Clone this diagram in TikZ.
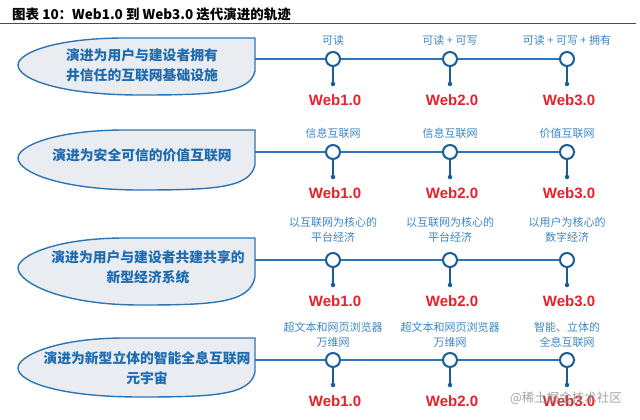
\documentclass[tikz,border=0pt]{standalone}
\usepackage{fontspec}
\setmainfont{Liberation Sans}
\newfontfamily\cjk{Noto Sans CJK SC}
\definecolor{leafblue}{HTML}{2E75B6}
\definecolor{leaftext}{HTML}{1F6BB0}
\definecolor{lbl}{HTML}{3D86C6}
\definecolor{ring}{HTML}{1A5C99}
\definecolor{webred}{HTML}{E8202A}
\definecolor{leaffill}{HTML}{E9EDF2}
\tikzset{
 leaf/.style={draw=leafblue, line width=1.4pt, fill=leaffill},
 leaftxt/.style={font=\cjk\bfseries\fontsize{13.8}{20}\selectfont, text=leaftext, align=center, inner sep=0pt},
 lbltxt/.style={font=\cjk\fontsize{11}{15}\selectfont, text=lbl, align=center, inner sep=0pt},
 tline/.style={draw=leafblue, line width=1.3pt},
 ringnode/.style={circle, draw=ring, line width=2pt, fill=white, minimum size=14pt, inner sep=0pt},
 dotnode/.style={circle, fill=ring, minimum size=4.5pt, inner sep=0pt},
 stem/.style={draw=ring, line width=1.2pt},
 webtxt/.style={font=\bfseries\fontsize{15}{18}\selectfont, text=webred, inner sep=0pt},
}
\newcommand\leafpath[3]{%
 \path[leaf] (255,#1) -- (255,{#1+0.58*(#2-#1)}) .. controls (250,{#2-2}) and (215,#2) .. (140,#2)
   .. controls (60,#2) and (18,{#3+14}) .. (18,#3) .. controls (18,{#3-12}) and (55,#1) .. (125,#1) -- cycle;}
\newcommand\timeline[2]{% #1 row id, #2 line y
 \node[ringnode] (c#1a) at (333,#2) {};
 \node[ringnode] (c#1b) at (450,#2) {};
 \node[ringnode] (c#1c) at (567,#2) {};
 \coordinate (s#1) at (255,#2);
 \draw[tline] (s#1) -- (c#1a) -- (c#1b) -- (c#1c);
 \node[dotnode] (d#1a) at (333,{#2+25}) {};
 \node[dotnode] (d#1b) at (450,{#2+25}) {};
 \node[dotnode] (d#1c) at (567,{#2+25}) {};
 \draw[stem] (c#1a) -- (d#1a);
 \draw[stem] (c#1b) -- (d#1b);
 \draw[stem] (c#1c) -- (d#1c);
 \node[webtxt] (w#1a) at (335,{#2+41}) {Web1.0};
 \node[webtxt] (w#1b) at (452,{#2+41}) {Web2.0};
 \node[webtxt] (w#1c) at (569,{#2+41}) {Web3.0};
}
\begin{document}
\begin{tikzpicture}[x=1pt,y=-1pt]
\useasboundingbox (0,0) rectangle (640,420);
\fill[white] (0,0) rectangle (640,420);
% title
\node[anchor=west, inner sep=0pt, font=\cjk\bfseries\fontsize{13.5}{16}\selectfont] (title) at (12,14) {图表 10：Web1.0 到 Web3.0 迭代演进的轨迹};
\draw[black!70, line width=0.8pt] (0,23) -- (636,23);
% row 1
\leafpath{38}{95}{65}
\node[leaftxt] (t1) at (142,65) {演进为用户与建设者拥有\\井信任的互联网基础设施};
\timeline{1}{59}
\node[lbltxt] (l1a) at (333,40) {可读};
\node[lbltxt] (l1b) at (450,40) {可读 + 可写};
\node[lbltxt] (l1c) at (567,40) {可读 + 可写 + 拥有};
% row 2
\leafpath{130}{190}{158}
\node[leaftxt] (t2) at (142,155) {演进为安全可信的价值互联网};
\timeline{2}{152}
\node[lbltxt] (l2a) at (333,133) {信息互联网};
\node[lbltxt] (l2b) at (450,133) {信息互联网};
\node[lbltxt] (l2c) at (567,133) {价值互联网};
% row 3
\leafpath{238}{305}{268}
\node[leaftxt] (t3) at (148,267) {演进为用户与建设者共建共享的\\新型经济系统};
\timeline{3}{260}
\node[lbltxt] (l3a) at (333,229.5) {以互联网为核心的\\平台经济};
\node[lbltxt] (l3b) at (450,229.5) {以互联网为核心的\\平台经济};
\node[lbltxt] (l3c) at (567,229.5) {以用户为核心的\\数字经济};
% row 4
\leafpath{338}{397}{368}
\node[leaftxt] (t4) at (147,368) {演进为新型立体的智能全息互联网\\元宇宙};
\timeline{4}{360}
\node[lbltxt] (l4a) at (333,334.5) {超文本和网页浏览器\\万维网};
\node[lbltxt] (l4b) at (450,334.5) {超文本和网页浏览器\\万维网};
\node[lbltxt] (l4c) at (567,334.5) {智能、立体的\\全息互联网};
% watermark
\node[inner sep=0pt, text=black!45, opacity=0.8, font=\cjk\fontsize{12.5}{14}\selectfont] (wm) at (566,398) {@稀土掘金技术社区};
\end{tikzpicture}
\end{document}
